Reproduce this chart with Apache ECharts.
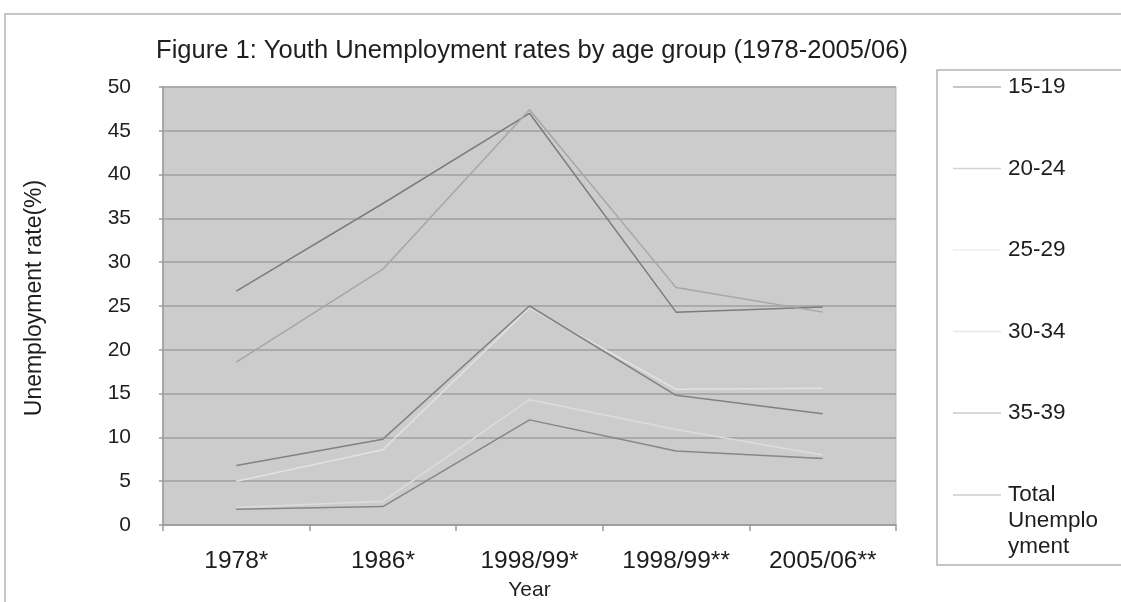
<!DOCTYPE html>
<html>
<head>
<meta charset="utf-8">
<script src="https://cdn.jsdelivr.net/npm/echarts@6/dist/echarts.min.js"></script>
<style>
  html, body { margin: 0; padding: 0; background: #ffffff; }
  #chart { width: 1121px; height: 602px; }
</style>
</head>
<body>
<div id="chart"></div>
<script>
// Survey years on the category axis
const years = ['1978*', '1986*', '1998/99*', '1998/99**', '2005/06**'];

// Unemployment rate (%) by age group
const age15to19 = [26.7, 36.7, 47.0, 24.3, 24.9];
const age20to24 = [18.6, 29.2, 47.4, 27.1, 24.3];
const age25to29 = [5.0, 8.6, 24.8, 15.5, 15.6];
const age30to34 = [2.0, 2.7, 14.3, 10.9, 8.0];
const age35to39 = [1.8, 2.1, 12.0, 8.45, 7.6];
const totalUnemployment = [6.8, 9.8, 25.0, 14.8, 12.7];

const seriesNames = ['15-19', '20-24', '25-29', '30-34', '35-39', 'Total Unemployment'];
const seriesData = [age15to19, age20to24, age25to29, age30to34, age35to39, totalUnemployment];
const lineColors = ['#7c7c7c', '#a6a6a6', '#e2e2e2', '#dcdcdc', '#868686', '#818181'];
const legendColors = ['#b4b4b4', '#d2d2d2', '#efefef', '#e8e8e8', '#cdcdcd', '#cdcdcd'];

const FONT = '"Liberation Sans", Arial, sans-serif';

const chart = echarts.init(document.getElementById('chart'));

const series = seriesNames.map((name, i) => ({
  name: name,
  type: 'line',
  data: seriesData[i],
  symbol: 'none',
  smooth: false,
  lineStyle: { color: lineColors[i], width: 1.5 },
  itemStyle: { color: lineColors[i] },
  emphasis: { disabled: true },
  z: 3
}));

// Legend entries: a plain thin bar as the key, no marker
const legendItem = (name, i) => ({
  name: name,
  icon: 'rect',
  itemStyle: { color: legendColors[i], borderWidth: 0 }
});

const legendText = { fontFamily: FONT, fontSize: 22.5, color: '#1e1e1e', lineHeight: 26, padding: [0, 0, 0, 2] };

chart.setOption({
  animation: false,
  backgroundColor: '#ffffff',
  title: {
    text: 'Figure 1: Youth Unemployment rates by age group (1978-2005/06)',
    left: 527,
    top: 33,
    textAlign: 'center',
    textStyle: { fontFamily: FONT, fontSize: 25.5, fontWeight: 'normal', color: '#1e1e1e' }
  },
  grid: {
    left: 163, top: 87, width: 733, height: 438,
    containLabel: false,
    outerBoundsMode: 'none',
    show: true,
    backgroundColor: '#cccccc',
    borderColor: '#b9b9b9',
    borderWidth: 1
  },
  legend: [
    {
      data: seriesNames.slice(0, 5).map(legendItem),
      orient: 'vertical',
      left: 953, top: 74,
      padding: 0,
      itemWidth: 48, itemHeight: 1.5,
      itemGap: 55.5,
      selectedMode: false,
      textStyle: legendText
    },
    {
      data: [legendItem('Total Unemployment', 5)],
      orient: 'vertical',
      left: 953, top: 430,
      padding: 0,
      itemWidth: 48, itemHeight: 1.5,
      selectedMode: false,
      formatter: () => '\n\nTotal\nUnemplo\nyment',
      textStyle: legendText
    }
  ],
  xAxis: {
    type: 'category',
    data: years,
    boundaryGap: true,
    name: 'Year',
    nameLocation: 'middle',
    nameGap: 55,
    nameTextStyle: { fontFamily: FONT, fontSize: 21, color: '#1e1e1e' },
    axisLine: { show: true, lineStyle: { color: '#9a9a9a', width: 1.5 } },
    axisTick: { show: true, length: 6, lineStyle: { color: '#9a9a9a', width: 1.5 } },
    axisLabel: { margin: 24, fontFamily: FONT, fontSize: 24.5, color: '#1e1e1e', interval: 0 },
    splitLine: { show: false }
  },
  yAxis: {
    type: 'value',
    min: 0, max: 50, interval: 5,
    name: 'Unemployment rate(%)',
    nameLocation: 'middle',
    nameGap: 117,
    nameRotate: 90,
    nameTextStyle: { fontFamily: FONT, fontSize: 23, color: '#1e1e1e', padding: [0, 0, 0, 16] },
    axisLine: { show: true, lineStyle: { color: '#9a9a9a', width: 1.5 } },
    axisTick: { show: true, length: 4, lineStyle: { color: '#9a9a9a', width: 1.5 } },
    axisLabel: { margin: 32, fontFamily: FONT, fontSize: 21, color: '#1e1e1e' },
    splitLine: { show: true, lineStyle: { color: '#a0a0a0', width: 1.5 } }
  },
  graphic: [
    {
      type: 'rect', silent: true, z: -1,
      shape: { x: 5, y: 14, width: 1300, height: 800 },
      style: { fill: null, stroke: '#b4b4b4', lineWidth: 1.5 }
    },
    {
      type: 'rect', silent: true, z: -1,
      shape: { x: 937, y: 70, width: 300, height: 495 },
      style: { fill: null, stroke: '#b4b4b4', lineWidth: 1.5 }
    }
  ],
  series: series
});
</script>
</body>
</html>
